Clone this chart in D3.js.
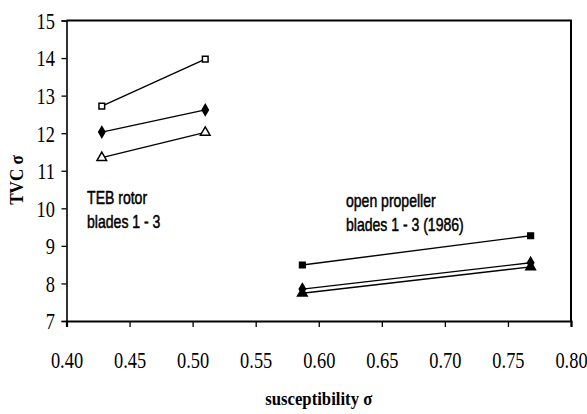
<!DOCTYPE html>
<html>
<head>
<meta charset="utf-8">
<script src="https://cdn.jsdelivr.net/npm/d3@7"></script>
<style>
  html, body { margin: 0; padding: 0; background: #fff; }
  svg { display: block; }
</style>
</head>
<body>
<svg id="chart" width="587" height="414"></svg>
<script>
// TVC against susceptibility for two blade sets
const xTicks = [0.40, 0.45, 0.50, 0.55, 0.60, 0.65, 0.70, 0.75, 0.80];
const yTicks = [7, 8, 9, 10, 11, 12, 13, 14, 15];

// TEB rotor, blades 1 - 3
const tebX = [0.428, 0.510];
const tebBlade1 = [12.72, 13.97];   // squares
const tebBlade2 = [12.03, 12.62];   // diamonds
const tebBlade3 = [11.35, 12.02];   // triangles

// open propeller, blades 1 - 3 (1986)
const propX = [0.587, 0.768];
const propBlade1 = [8.49, 9.27];
const propBlade2 = [7.85, 8.55];
const propBlade3 = [7.74, 8.44];

// annotation blocks, anchored in data units (first baseline)
const groupLabels = [
  { lines: ["TEB rotor", "blades 1 - 3"], at: [0.4163, 10.11] },
  { lines: ["open propeller", "blades 1 - 3 (1986)"], at: [0.6216, 10.04] }
];

const svg = d3.select("#chart");
const plotL = 66.5, plotR = 571, plotT = 20.5, plotB = 321;

const x = d3.scaleLinear().domain([0.40, 0.80]).range([plotL, plotR]);
const y = d3.scaleLinear().domain([7, 15]).range([plotB, plotT]);

const serif = "'Liberation Serif', 'Times New Roman', serif";
const sans = "'Liberation Sans', Arial, sans-serif";

// frame: top and right edges
svg.append("path")
  .attr("d", `M${plotL},${plotT}H${plotR}V${plotB}`)
  .attr("fill", "none").attr("stroke", "#000").attr("stroke-width", 2);

// y axis
const yAxis = svg.append("g")
  .attr("transform", `translate(${plotL},0)`)
  .call(d3.axisLeft(y).tickValues(yTicks).tickSize(5).tickFormat(d3.format("d")))
  .attr("font-family", serif).attr("font-size", 23);
yAxis.select(".domain").attr("stroke-width", 1.6);
yAxis.selectAll(".tick line").attr("stroke-width", 1.3);
yAxis.selectAll(".tick text")
  .attr("x", -11.5 / 0.8)
  .attr("dy", "0.34em")
  .attr("transform", "scale(0.8,1)")
  .attr("fill", "#000")
  .style("font-family", serif).style("font-size", "23px");

// x axis
const xAxis = svg.append("g")
  .attr("transform", `translate(0,${plotB})`)
  .call(d3.axisBottom(x).tickValues(xTicks).tickSize(6).tickFormat(d3.format(".2f")))
  .attr("font-family", serif).attr("font-size", 23);
xAxis.select(".domain").attr("stroke-width", 2.2);
xAxis.selectAll(".tick line").attr("stroke-width", 1.3);
xAxis.selectAll(".tick text")
  .attr("y", 47).attr("dy", 0)
  .attr("transform", "scale(0.8,1)")
  .attr("fill", "#000")
  .style("font-family", serif).style("font-size", "23px");

// axis titles
svg.append("text")
  .attr("transform", `translate(${(plotL + plotR) / 2},405) scale(0.88,1)`)
  .attr("text-anchor", "middle")
  .style("font-family", serif).style("font-size", "19px").style("font-weight", "bold")
  .text("susceptibility σ");

svg.append("text")
  .attr("transform", "translate(23,180) rotate(-90) scale(0.9,1)")
  .attr("text-anchor", "middle")
  .style("font-family", serif).style("font-size", "19px").style("font-weight", "bold")
  .text("TVC  σ");

// series
const line = d3.line().x(d => x(d[0])).y(d => y(d[1]));
const series = [
  { xs: tebX, ys: tebBlade1, mark: "square", fill: "#fff" },
  { xs: tebX, ys: tebBlade2, mark: "diamond", fill: "#000" },
  { xs: tebX, ys: tebBlade3, mark: "triangle", fill: "#fff" },
  { xs: propX, ys: propBlade1, mark: "square", fill: "#000" },
  { xs: propX, ys: propBlade2, mark: "diamond", fill: "#000" },
  { xs: propX, ys: propBlade3, mark: "triangle", fill: "#000" }
];

const symbolType = { square: d3.symbolSquare, diamond: d3.symbolDiamond, triangle: d3.symbolTriangle };
const symbolSize = { square: 32, diamond: 34, triangle: 40 };

series.forEach(s => {
  const pts = s.xs.map((v, i) => [v, s.ys[i]]);
  svg.append("path")
    .attr("d", line(pts))
    .attr("fill", "none").attr("stroke", "#000").attr("stroke-width", 1.4);
  svg.selectAll(null).data(pts).enter().append("path")
    .attr("transform", d => `translate(${x(d[0])},${y(d[1])})`)
    .attr("d", d3.symbol().type(symbolType[s.mark]).size(symbolSize[s.mark]))
    .attr("fill", s.fill).attr("stroke", "#000").attr("stroke-width", 1.5);
});

// group annotations
groupLabels.forEach(g => {
  g.lines.forEach((t, i) => {
    svg.append("text")
      .attr("transform", `translate(${x(g.at[0])},${y(g.at[1]) + i * 24}) scale(0.78,1)`)
      .style("font-family", sans).style("font-size", "18px")
      .attr("stroke", "#000").attr("stroke-width", 0.5)
      .text(t);
  });
});
</script>
</body>
</html>
